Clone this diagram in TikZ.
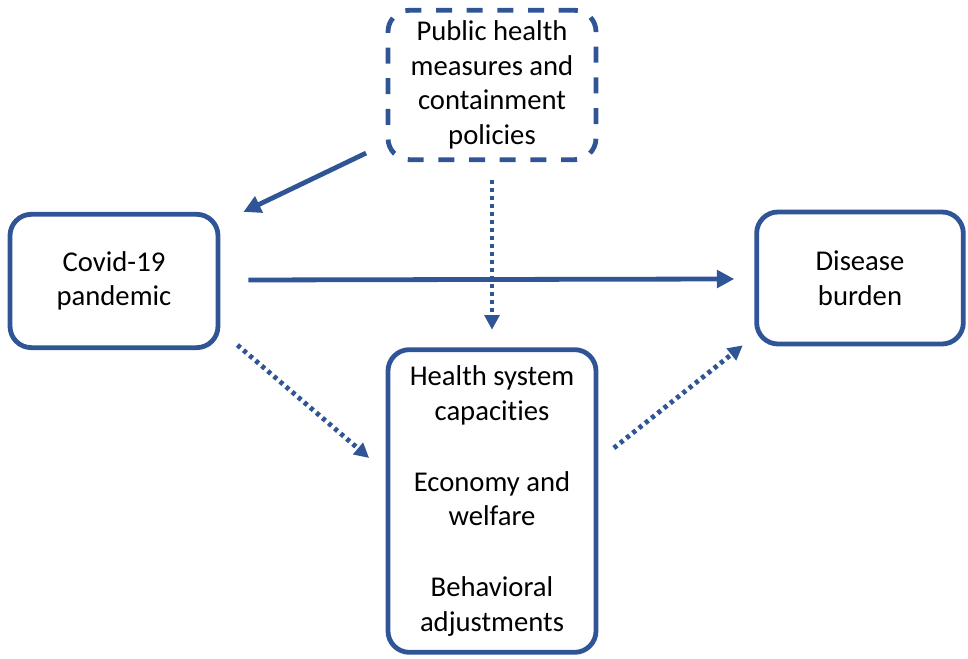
\documentclass[tikz,border=0pt]{standalone}
\usepackage{fontspec}
\setmainfont{Carlito}[Ligatures=NoCommon]
\usepackage{tikz}
\usetikzlibrary{arrows.meta}
\definecolor{darkblue}{RGB}{47,85,151}

\begin{document}
\begin{tikzpicture}[x=0.75pt, y=0.75pt,
    box/.style = {draw=darkblue, line width=3.6pt, rounded corners=16pt, align=center,
        font=\fontsize{21.5}{26}\selectfont},
    solidarr/.style = {draw=darkblue, line width=3.6pt, -{Triangle[length=13pt, width=13pt]}},
    dotarr/.style = {draw=darkblue, line width=3.6pt, dash pattern=on 3pt off 3pt,
        -{Triangle[length=11pt, width=11pt]}}]
\useasboundingbox (0,0) rectangle (968,659);
\node[box, dash pattern=on 12pt off 11pt, minimum width=156pt, minimum height=112pt](pub) at (492,574) {Public health\\measures and\\containment\\policies};
\node[box, minimum width=156pt, minimum height=100pt](cov) at (114,378) {Covid-19\\pandemic};
\node[box, minimum width=155pt, minimum height=99pt](dis) at (860,381) {Disease\\burden};
\node[box, minimum width=156pt, minimum height=227pt](mid) at (492,158) {Health system\\capacities\\[27pt]Economy and\\welfare\\[27pt]Behavioral\\adjustments};
\draw[solidarr] ([shift={(-19.5,9)}]pub.south west) -- ([shift={(23,0)}]cov.north east);
\draw[solidarr] ([shift={(28,1)}]cov.east) -- ([shift={(-20,-1)}]dis.west);
\draw[dotarr] ([shift={(0,-18)}]pub.south) -- ([shift={(0,17.5)}]mid.north);
\draw[dotarr] ([shift={(17,5)}]cov.south east) -- ([shift={(-16.5,43)}]mid.west);
\draw[dotarr] ([shift={(15.5,53)}]mid.east) -- ([shift={(-11.5,1)}]dis.south west);
\end{tikzpicture}
\end{document}
